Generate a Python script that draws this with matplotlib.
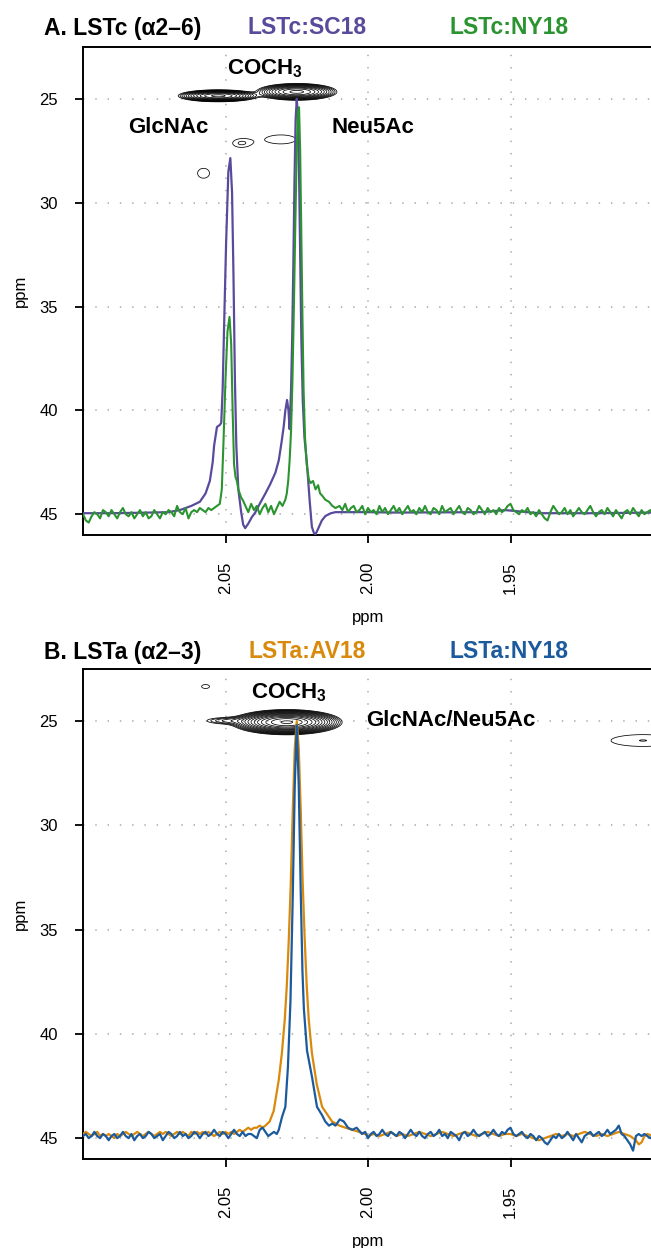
import numpy as np
import matplotlib
matplotlib.use("Agg")
import matplotlib.pyplot as plt

plt.rcParams['font.family'] = ['Liberation Sans', 'DejaVu Sans']
plt.rcParams['mathtext.fontset'] = 'custom'
plt.rcParams['mathtext.rm'] = 'Liberation Sans'
plt.rcParams['mathtext.bf'] = 'Liberation Sans:bold'

# ---------------- data: panel A (LSTc) ----------------
sc18_ppm = [2.100, 2.090, 2.080, 2.070, 2.066, 2.062, 2.059, 2.057, 2.0555, 2.0545, 2.0540, 2.0530,
            2.0520, 2.0515, 2.0510, 2.0505, 2.0498, 2.0490, 2.0483, 2.0477, 2.0472, 2.0467, 2.0462,
            2.0455, 2.0445, 2.0438, 2.0431, 2.0420, 2.0408, 2.0395, 2.0378, 2.0360, 2.0343, 2.0325,
            2.0313, 2.0303, 2.0296, 2.0290, 2.0284, 2.0279, 2.0275, 2.0270, 2.0266, 2.0262, 2.0258,
            2.0254, 2.0250, 2.0246, 2.0242, 2.0238, 2.0234, 2.0229, 2.0223, 2.0214, 2.0205, 2.0197,
            2.0190, 2.0184, 2.0175, 2.0162, 2.0149, 2.0130, 2.0114, 2.000, 1.990, 1.960, 1.952,
            1.948, 1.940, 1.920, 1.900]
sc18_val = [44.95, 44.95, 44.93, 44.90, 44.80, 44.60, 44.40, 44.00, 43.40, 42.50, 41.70, 40.80,
            40.70, 40.60, 39.00, 36.00, 32.00, 28.50, 27.85, 29.50, 33.50, 38.50, 41.70,
            43.80, 44.90, 45.50, 45.67, 45.45, 45.15, 44.90, 44.45, 44.00, 43.55, 43.00,
            42.40, 41.50, 40.80, 40.00, 39.50, 40.00, 40.90, 39.00, 36.50, 33.00, 29.00,
            26.00, 25.00, 25.80, 28.50, 32.50, 36.50, 39.50, 41.30, 42.60, 44.30, 45.60,
            45.90, 45.96, 45.70, 45.30, 45.08, 44.95, 44.90, 44.90, 44.92, 44.90, 44.80,
            44.85, 44.95, 44.95, 44.92]

ny18a_ppm = [2.100, 2.099, 2.098, 2.097, 2.096, 2.095, 2.094, 2.093, 2.092, 2.091, 2.090, 2.089,
             2.088, 2.087, 2.086, 2.085, 2.084, 2.083, 2.082, 2.081, 2.080, 2.079, 2.078, 2.077,
             2.076, 2.075, 2.074, 2.073, 2.072, 2.071, 2.070, 2.069, 2.068, 2.067, 2.066, 2.065,
             2.064, 2.063, 2.062, 2.061, 2.060, 2.059, 2.058, 2.057, 2.056, 2.055, 2.054, 2.053,
             2.052, 2.0513, 2.0507, 2.0500, 2.0493, 2.0486, 2.0480, 2.0475, 2.0470, 2.0465,
             2.0460, 2.0455, 2.0450, 2.0445, 2.0440, 2.043, 2.042, 2.041, 2.040, 2.039, 2.038,
             2.037, 2.036, 2.035, 2.034, 2.033, 2.032, 2.031, 2.030, 2.029, 2.0285, 2.0280,
             2.0275, 2.0270, 2.0265, 2.0260, 2.0255, 2.0250, 2.0246, 2.0242, 2.0238, 2.0234,
             2.0230, 2.0226, 2.0221, 2.0215, 2.0208, 2.0202, 2.0193, 2.0184, 2.0175, 2.0168,
             2.0161, 2.0150, 2.0137, 2.0125, 2.0114,
             2.010, 2.009, 2.008, 2.007, 2.006, 2.005, 2.004, 2.003, 2.002, 2.001, 2.000,
             1.999, 1.998, 1.997, 1.996, 1.995, 1.994, 1.993, 1.992, 1.991, 1.990,
             1.989, 1.988, 1.987, 1.986, 1.985, 1.984, 1.983, 1.982, 1.981, 1.980,
             1.979, 1.978, 1.977, 1.976, 1.975, 1.974, 1.973, 1.972, 1.971, 1.970,
             1.969, 1.968, 1.967, 1.966, 1.965, 1.964, 1.963, 1.962, 1.961, 1.960,
             1.959, 1.958, 1.957, 1.956, 1.955, 1.954, 1.953, 1.952, 1.951, 1.950,
             1.949, 1.948, 1.947, 1.946, 1.945, 1.944, 1.943, 1.942, 1.941, 1.940,
             1.939, 1.938, 1.937, 1.936, 1.935, 1.934, 1.933, 1.932, 1.931, 1.930,
             1.929, 1.928, 1.927, 1.926, 1.925, 1.924, 1.923, 1.922, 1.921, 1.920,
             1.919, 1.918, 1.917, 1.916, 1.915, 1.914, 1.913, 1.912, 1.911, 1.910,
             1.909, 1.908, 1.907, 1.906, 1.905, 1.904, 1.903, 1.902, 1.901, 1.900]
ny18a_val = [45.0, 45.3, 45.4, 45.1, 44.9, 45.0, 45.2, 44.8, 44.9, 45.1, 44.8, 45.0,
             45.2, 44.9, 44.7, 45.0, 45.1, 44.9, 45.2, 45.0, 44.8, 45.1, 44.9, 45.2,
             45.1, 44.8, 45.0, 45.2, 44.9, 45.0, 44.8, 44.9, 45.1, 44.6, 44.9, 45.0,
             44.7, 45.2, 44.9, 44.8, 44.9, 44.7, 44.8, 44.9, 44.7, 44.8, 44.7, 44.6,
             44.5, 43.8, 41.5, 38.5, 36.2, 35.5, 36.8, 40.0, 42.6, 43.2,
             43.4, 43.8, 44.0, 44.2, 44.3, 44.6, 44.9, 44.5, 44.8, 44.6, 45.0,
             44.7, 44.5, 44.9, 44.6, 45.0, 44.7, 44.4, 44.6, 44.3, 44.0, 43.4,
             42.4, 41.0, 38.5, 35.0, 31.0, 27.5, 25.6, 25.4, 27.5, 31.5,
             35.5, 39.0, 41.3, 42.6, 43.3, 43.5, 43.4, 43.8, 43.6, 44.0,
             44.1, 44.3, 44.4, 44.6, 44.7,
             44.6, 44.8, 44.5, 44.9, 44.7, 44.6, 44.9, 44.8, 44.6, 45.0, 44.7,
             44.9, 44.8, 45.0, 44.6, 44.9, 44.7, 45.0, 44.8, 44.6, 44.9,
             44.7, 45.0, 44.8, 44.6, 44.9, 44.8, 45.0, 44.7, 44.9, 44.6,
             44.9, 45.0, 44.7, 44.8, 45.0, 44.6, 44.9, 44.8, 44.7, 45.0,
             44.8, 44.6, 44.9, 45.0, 44.7, 44.8, 45.0, 44.9, 44.6, 44.8,
             45.0, 44.7, 44.9, 44.8, 45.0, 44.7, 44.9, 44.8, 44.6, 44.5,
             44.8, 44.9, 45.0, 44.8, 44.9, 44.7, 45.0, 44.9, 45.1, 44.8,
             45.0, 45.2, 45.3, 44.9, 44.6, 44.8, 45.0, 44.9, 44.7, 45.0,
             44.8, 45.1, 44.9, 44.7, 44.9, 45.0, 44.8, 44.6, 44.9, 45.1,
             44.9, 44.8, 45.0, 44.7, 44.9, 45.1, 44.8, 45.0, 45.2, 44.9,
             44.8, 45.0, 44.7, 44.9, 45.1, 44.8, 45.0, 44.9, 44.8, 45.0]

# ---------------- data: panel B (LSTa) ----------------
av18_ppm = [2.100, 2.099, 2.098, 2.097, 2.096, 2.095, 2.094, 2.093, 2.092, 2.091, 2.090, 2.089,
            2.088, 2.087, 2.086, 2.085, 2.084, 2.083, 2.082, 2.081, 2.080, 2.079, 2.078, 2.077,
            2.076, 2.075, 2.074, 2.073, 2.072, 2.071, 2.070, 2.069, 2.068, 2.067, 2.066, 2.065,
            2.064, 2.063, 2.062, 2.061, 2.060, 2.059, 2.058, 2.057, 2.056, 2.055, 2.054, 2.053,
            2.052, 2.051, 2.050, 2.049, 2.048, 2.047, 2.046, 2.045, 2.044, 2.043, 2.042, 2.041,
            2.040, 2.039, 2.038, 2.037, 2.036, 2.0345, 2.0331, 2.0313, 2.0302, 2.0292, 2.0285,
            2.0278, 2.0271, 2.0264, 2.0257, 2.0250, 2.0243, 2.0236, 2.0229, 2.0222, 2.0215,
            2.0208, 2.0197, 2.0180, 2.0161, 2.0126, 2.0100, 2.0079, 2.0055, 2.0032, 2.001,
            2.000, 1.998, 1.996, 1.994, 1.992, 1.990, 1.988, 1.986, 1.984, 1.982, 1.980,
            1.978, 1.976, 1.974, 1.972, 1.970, 1.968, 1.966, 1.964, 1.962, 1.960,
            1.958, 1.956, 1.954, 1.952, 1.950, 1.948, 1.946, 1.944, 1.942, 1.940,
            1.938, 1.936, 1.934, 1.932, 1.930, 1.928, 1.926, 1.924, 1.922, 1.920,
            1.918, 1.916, 1.914, 1.912, 1.910, 1.908, 1.906, 1.905, 1.904, 1.903, 1.902, 1.900]
av18_val = [44.8, 44.7, 44.8, 44.9, 44.8, 44.7, 44.9, 44.8, 44.9, 44.8, 44.9, 45.0,
            44.8, 44.9, 44.8, 44.7, 44.8, 44.9, 44.8, 44.7, 44.8, 44.9, 44.8, 44.7,
            44.8, 44.9, 44.8, 44.7, 44.8, 44.7, 44.8, 44.9, 44.8, 44.7, 44.8, 44.7,
            44.8, 44.9, 44.7, 44.8, 44.7, 44.8, 44.7, 44.8, 44.7, 44.8, 44.9, 44.8,
            44.7, 44.8, 44.7, 44.8, 44.7, 44.8, 44.7, 44.6, 44.7, 44.6, 44.5, 44.6,
            44.5, 44.5, 44.4, 44.5, 44.4, 44.2, 43.7, 42.2, 40.9, 39.3, 37.7,
            35.5, 32.8, 29.3, 26.3, 25.0, 26.3, 29.3, 32.8, 35.5, 37.7,
            39.3, 40.9, 42.4, 43.5, 44.2, 44.4, 44.5, 44.6, 44.7, 44.8,
            44.9, 44.8, 44.9, 44.8, 44.7, 44.9, 44.8, 44.9, 44.8, 44.7, 44.8,
            44.9, 44.8, 44.7, 44.8, 44.9, 44.8, 44.7, 44.8, 44.9, 44.8,
            44.7, 44.8, 44.9, 44.8, 44.8, 44.9, 44.8, 44.9, 45.0, 45.1,
            45.0, 44.9, 44.8, 44.9, 44.8, 44.9, 44.8, 44.7, 44.8, 44.9,
            44.8, 44.9, 44.8, 44.7, 44.8, 44.9, 45.1, 45.3, 45.2, 44.9, 44.8, 44.9]

ny18b_ppm = [2.100, 2.099, 2.098, 2.097, 2.096, 2.095, 2.094, 2.093, 2.092, 2.091, 2.090, 2.089,
             2.088, 2.087, 2.086, 2.085, 2.084, 2.083, 2.082, 2.081, 2.080, 2.079, 2.078, 2.077,
             2.076, 2.075, 2.074, 2.073, 2.072, 2.071, 2.070, 2.069, 2.068, 2.067, 2.066, 2.065,
             2.064, 2.063, 2.062, 2.061, 2.060, 2.059, 2.058, 2.057, 2.056, 2.055, 2.054, 2.053,
             2.052, 2.051, 2.050, 2.049, 2.048, 2.047, 2.046, 2.045, 2.044, 2.043, 2.042, 2.041,
             2.040, 2.039, 2.038, 2.037, 2.036, 2.035, 2.034, 2.033, 2.032, 2.0313, 2.0302,
             2.0290, 2.0281, 2.0272, 2.0264, 2.0257, 2.0250, 2.0243, 2.0236, 2.0230, 2.0225,
             2.0214, 2.0196, 2.0179, 2.0161, 2.0150, 2.0137, 2.0125, 2.0114, 2.0099, 2.0085,
             2.0070, 2.0055, 2.0040, 2.0021, 2.001,
             2.000, 1.999, 1.998, 1.997, 1.996, 1.995, 1.994, 1.993, 1.992, 1.991, 1.990,
             1.989, 1.988, 1.987, 1.986, 1.985, 1.984, 1.983, 1.982, 1.981, 1.980,
             1.979, 1.978, 1.977, 1.976, 1.975, 1.974, 1.973, 1.972, 1.971, 1.970,
             1.969, 1.968, 1.967, 1.966, 1.965, 1.964, 1.963, 1.962, 1.961, 1.960,
             1.959, 1.958, 1.957, 1.956, 1.955, 1.954, 1.953, 1.952, 1.951, 1.950,
             1.949, 1.948, 1.947, 1.946, 1.945, 1.944, 1.943, 1.942, 1.941, 1.940,
             1.939, 1.938, 1.937, 1.936, 1.935, 1.934, 1.933, 1.932, 1.931, 1.930,
             1.929, 1.928, 1.927, 1.926, 1.925, 1.924, 1.923, 1.922, 1.921, 1.920,
             1.919, 1.918, 1.917, 1.916, 1.915, 1.914, 1.913, 1.912, 1.911, 1.910,
             1.909, 1.908, 1.907, 1.906, 1.905, 1.904, 1.903, 1.902, 1.901, 1.900]
ny18b_val = [44.9, 44.8, 45.0, 44.9, 44.7, 44.9, 45.0, 44.8, 44.9, 45.1, 44.9, 44.8,
             45.0, 44.9, 44.7, 44.9, 45.0, 44.8, 45.1, 44.9, 44.8, 45.0, 44.9, 44.7,
             44.8, 45.0, 44.9, 44.8, 45.1, 44.9, 44.7, 44.8, 45.0, 44.9, 44.7, 44.9,
             44.8, 45.0, 44.9, 44.7, 44.8, 45.0, 44.8, 44.7, 44.9, 44.8, 44.6, 44.8,
             44.9, 44.7, 44.8, 45.0, 44.8, 44.6, 44.8, 44.9, 44.7, 44.9, 44.8, 44.8,
             44.9, 45.0, 44.6, 44.5, 44.7, 44.9, 44.8, 44.7, 44.8, 44.6, 44.0,
             43.5, 41.6, 38.4, 33.4, 28.1, 25.2, 28.1, 33.2, 37.0, 38.8,
             40.8, 42.1, 43.5, 43.9, 44.2, 44.4, 44.3, 44.4, 44.1, 44.2,
             44.5, 44.6, 44.5, 44.8, 44.7,
             45.0, 44.8, 44.7, 44.9, 44.8, 44.6, 44.8, 44.9, 44.7, 44.8, 44.9,
             44.7, 44.8, 45.0, 44.8, 44.6, 44.8, 44.9, 44.7, 44.9, 45.0,
             44.8, 44.7, 44.9, 44.8, 44.6, 44.9, 44.8, 45.0, 44.7, 44.8,
             44.9, 45.1, 44.8, 44.7, 44.9, 44.8, 44.6, 44.8, 44.9, 44.8,
             44.7, 44.9, 44.8, 44.6, 44.8, 44.9, 44.7, 44.8, 44.6, 44.5,
             44.8, 44.9, 44.8, 44.7, 44.9, 45.0, 44.8, 44.9, 45.1, 44.9,
             45.0, 45.2, 45.3, 45.1, 44.9, 45.0, 44.8, 45.0, 44.9, 44.7,
             44.9, 45.1, 44.8, 45.0, 45.2, 44.9, 44.8, 44.7, 44.9, 44.8,
             44.7, 44.9, 44.8, 44.6, 44.8, 44.7, 44.6, 44.4, 44.8, 44.9,
             45.1, 45.3, 45.6, 44.9, 44.8, 44.9, 44.8, 44.9, 45.0, 44.9]

# 2D contour peaks: position (ppm_x, ppm_y), amplitude, widths
peaksA_x = [2.0525, 2.0250, 2.0577, 2.0447, 2.0306]
peaksA_y = [24.85, 24.66, 28.58, 27.14, 26.95]
peaksA_amp = [1.0, 1.0, 0.033, 0.033, 0.033]
peaksA_wx = [0.0052, 0.0052, 0.0029, 0.0034, 0.0073]
peaksA_wy = [0.107, 0.150, 0.33, 0.23, 0.30]

peaksB_x = [2.0285, 2.0490, 2.0570, 1.9035]
peaksB_y = [25.05, 24.98, 23.34, 25.93]
peaksB_amp = [1.0, 0.025, 0.013, 0.0136]
peaksB_wx = [0.0064, 0.0055, 0.0019, 0.0143]
peaksB_wy = [0.200, 0.110, 0.13, 0.36]

col_sc18 = '#5a4a9c'
col_ny18a = '#2b9430'
col_av18 = '#d9890b'
col_ny18b = '#1b5a9c'

W, H = 651, 1248
fig = plt.figure(figsize=(W / 100, H / 100), dpi=100)


def fx(px):
    return px / W


def fy(py):
    return 1 - py / H


def model(X, Y, px, py, amp, wx, wy):
    Z = np.zeros_like(X)
    for a, b, c, d, e in zip(px, py, amp, wx, wy):
        Z += c * np.exp(-0.5 * ((X - a) / d) ** 2 - 0.5 * ((Y - b) / e) ** 2)
    return Z


def setup(ax):
    ax.set_xlim(2.10, 1.90)
    ax.set_ylim(46.0, 22.5)
    ax.set_xticks([2.05, 2.00, 1.95])
    ax.set_xticklabels(['2.05', '2.00', '1.95'], rotation=90)
    ax.set_yticks([25, 30, 35, 40, 45])
    ax.tick_params(axis='both', direction='out', length=6, width=1.3, labelsize=12, colors='black')
    ax.tick_params(axis='x', pad=13)
    ax.tick_params(axis='y', pad=12)
    for s in ax.spines.values():
        s.set_linewidth(1.4)
    for v in [2.05, 2.00, 1.95]:
        ax.axvline(v, color='#b5b5b5', lw=1.3, ls=(0, (0.8, 6)), zorder=0)
    for v in [25, 30, 35, 40, 45]:
        ax.axhline(v, color='#b5b5b5', lw=1.3, ls=(0, (0.8, 6)), zorder=0)
    ax.set_xlabel('ppm', fontsize=12, labelpad=12)
    ax.set_ylabel('ppm', fontsize=12, labelpad=8)


gx = np.linspace(2.10, 1.90, 1400)
gy = np.linspace(22.5, 30.0, 700)
GX, GY = np.meshgrid(gx, gy)

TFS = 16.5
AFS = 16

# ---------------- Panel A ----------------
axA = fig.add_axes([fx(83), fy(535), fx(653) - fx(83), fy(47) - fy(535)])
axA.patch.set_alpha(0)
setup(axA)
ZA = model(GX, GY, peaksA_x, peaksA_y, peaksA_amp, peaksA_wx, peaksA_wy)
axA.contour(GX, GY, ZA, levels=np.geomspace(0.0255, 0.9, 12), colors='black', linewidths=0.55)
axA.plot(sc18_ppm, sc18_val, color=col_sc18, lw=1.6, zorder=3)
axA.plot(ny18a_ppm, ny18a_val, color=col_ny18a, lw=1.5, zorder=4)
axA.text(2.0363, 23.55, r'COCH$_\mathbf{3}$', fontsize=AFS, fontweight='bold', ha='center', va='center')
axA.text(2.0701, 26.38, 'GlcNAc', fontsize=AFS, fontweight='bold', ha='center', va='center')
axA.text(1.9982, 26.38, 'Neu5Ac', fontsize=AFS, fontweight='bold', ha='center', va='center')

fig.text(fx(44), fy(28), 'A. LSTc (α2–6)', fontsize=TFS, fontweight='bold', ha='left', va='center')
fig.text(fx(307), fy(28), 'LSTc:SC18', fontsize=TFS, fontweight='bold', ha='center', va='center', color=col_sc18)
fig.text(fx(509), fy(28), 'LSTc:NY18', fontsize=TFS, fontweight='bold', ha='center', va='center', color=col_ny18a)

# ---------------- Panel B ----------------
axB = fig.add_axes([fx(83), fy(1159), fx(653) - fx(83), fy(669) - fy(1159)])
axB.patch.set_alpha(0)
setup(axB)
ZB = model(GX, GY, peaksB_x, peaksB_y, peaksB_amp, peaksB_wx, peaksB_wy)
axB.contour(GX, GY, ZB, levels=np.geomspace(0.01, 0.95, 16), colors='black', linewidths=0.55)
axB.plot(av18_ppm, av18_val, color=col_av18, lw=1.6, zorder=3)
axB.plot(ny18b_ppm, ny18b_val, color=col_ny18b, lw=1.6, zorder=4)
axB.text(2.0278, 23.62, r'COCH$_\mathbf{3}$', fontsize=AFS, fontweight='bold', ha='center', va='center')
axB.text(1.9711, 24.97, 'GlcNAc/Neu5Ac', fontsize=AFS, fontweight='bold', ha='center', va='center')

fig.text(fx(44), fy(652), 'B. LSTa (α2–3)', fontsize=TFS, fontweight='bold', ha='left', va='center')
fig.text(fx(307), fy(652), 'LSTa:AV18', fontsize=TFS, fontweight='bold', ha='center', va='center', color=col_av18)
fig.text(fx(509), fy(652), 'LSTa:NY18', fontsize=TFS, fontweight='bold', ha='center', va='center', color=col_ny18b)

fig.savefig('out.png', dpi=100)
